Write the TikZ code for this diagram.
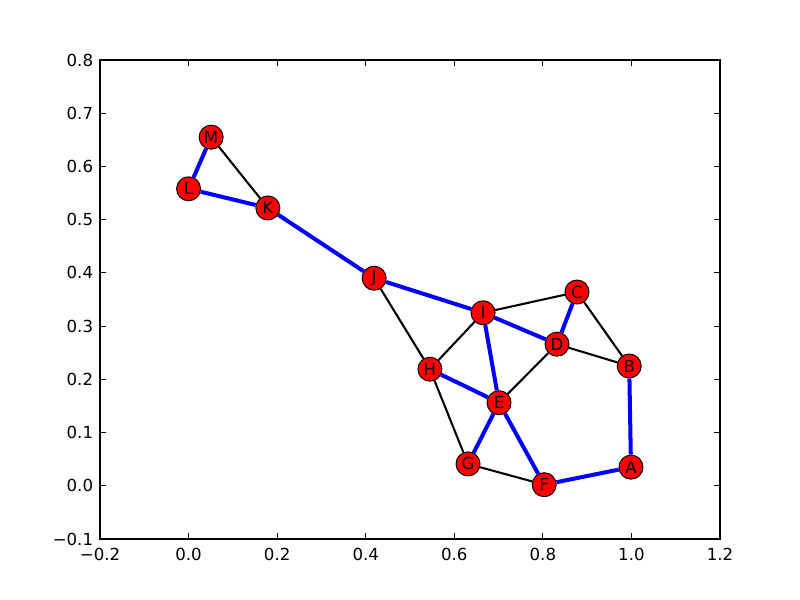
\documentclass[tikz,border=0pt]{standalone}
\usepackage{fontspec}
\setmainfont{DejaVu Sans}
\begin{document}
\begin{tikzpicture}[x=4.4286in,y=5.322in,
    vertex/.style={circle,draw=black,line width=0.7pt,fill=red,minimum size=0.24in,inner sep=0pt,font=\fontsize{12}{14}\selectfont},
    tree/.style={draw=blue,line width=2.9pt},
    rest/.style={draw=black,line width=1.5pt},
    ticklabel/.style={inner sep=0pt,font=\fontsize{12}{14}\selectfont}]
    \useasboundingbox (-0.4258,-0.2146) rectangle (1.3806,0.9127);
    % axes frame and ticks
    \draw[line width=0.8pt] (-0.2,-0.1) rectangle (1.2,0.8);
    \foreach \x/\lab in {-0.2/−0.2,0/0.0,0.2/0.2,0.4/0.4,0.6/0.6,0.8/0.8,1.0/1.0,1.2/1.2} {
        \draw[line width=0.6pt] (\x,-0.1) -- ++(0pt,4pt);
        \draw[line width=0.6pt] (\x,0.8) -- ++(0pt,-4pt);
        \node[ticklabel,anchor=north,yshift=-6.5pt] at (\x,-0.1) {\lab};
    }
    \foreach \y/\lab in {-0.1/−0.1,0/0.0,0.1/0.1,0.2/0.2,0.3/0.3,0.4/0.4,0.5/0.5,0.6/0.6,0.7/0.7,0.8/0.8} {
        \draw[line width=0.6pt] (-0.2,\y) -- ++(4pt,0pt);
        \draw[line width=0.6pt] (1.2,\y) -- ++(-4pt,0pt);
        \node[ticklabel,anchor=east,xshift=-4.8pt] at (-0.2,\y) {\lab};
    }
    % graph
    \node[vertex] (A) at (0.999,0.035) {A};
    \node[vertex] (B) at (0.995,0.225) {B};
    \node[vertex] (C) at (0.877,0.364) {C};
    \node[vertex] (D) at (0.832,0.266) {D};
    \node[vertex] (E) at (0.701,0.156) {E};
    \node[vertex] (F) at (0.803,0.002) {F};
    \node[vertex] (G) at (0.631,0.041) {G};
    \node[vertex] (H) at (0.545,0.219) {H};
    \node[vertex] (I) at (0.665,0.325) {I};
    \node[vertex] (J) at (0.419,0.390) {J};
    \node[vertex] (K) at (0.179,0.522) {K};
    \node[vertex] (L) at (0.000,0.558) {L};
    \node[vertex] (M) at (0.051,0.655) {M};
    \foreach \a/\b in {M/K,J/H,H/I,I/C,C/B,D/B,D/E,H/G,G/F}
        \draw[rest] (\a) -- (\b);
    \foreach \a/\b in {M/L,L/K,K/J,J/I,I/D,D/C,I/E,H/E,E/G,E/F,F/A,A/B}
        \draw[tree] (\a) -- (\b);
\end{tikzpicture}
\end{document}
